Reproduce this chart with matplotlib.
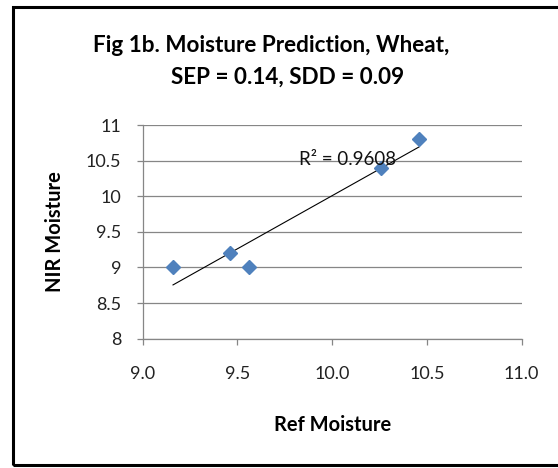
import numpy as np
import matplotlib
matplotlib.use("Agg")
import matplotlib.pyplot as plt
from matplotlib.patches import Rectangle

plt.rcParams['font.family'] = ['Lato', 'DejaVu Sans']

ref_moisture = [9.16, 9.46, 9.56, 10.26, 10.46]
nir_moisture = [9.0, 9.2, 9.0, 10.4, 10.8]
x_ticks = [9.0, 9.5, 10.0, 10.5, 11.0]
y_ticks = [8, 8.5, 9, 9.5, 10, 10.5, 11]
x_tick_labels = ["9.0", "9.5", "10.0", "10.5", "11.0"]
y_tick_labels = ["8", "8.5", "9", "9.5", "10", "10.5", "11"]
title_line1 = "Fig 1b. Moisture Prediction, Wheat,"
title_line2 = "SEP = 0.14, SDD = 0.09"
r2_label = "R² = 0.9608"

W, H = 558, 468
fig = plt.figure(figsize=(W / 100, H / 100), dpi=100)
fig.patch.set_facecolor('white')

# outer frame
fig.add_artist(Rectangle((13 / W, 1 - 465 / H), (W + 20) / W, (465 - 7) / H,
                         transform=fig.transFigure, fill=False,
                         edgecolor='black', linewidth=2.2))

ax = fig.add_axes([142.7 / W, 1 - 338.7 / H, (521.7 - 142.7) / W, (338.7 - 125) / H])

x = np.array(ref_moisture)
y = np.array(nir_moisture)
m, b = np.polyfit(x, y, 1)
xl = np.array([x.min(), x.max()])
ax.plot(xl, m * xl + b, color='black', linewidth=0.8, zorder=2)
ax.plot(x, y, linestyle='none', marker='D', markersize=7.2,
        color='#4F81BD', markeredgecolor='#4F81BD', zorder=3)

ax.set_xlim(9.0, 11.0)
ax.set_ylim(8, 11)
ax.set_xticks(x_ticks)
ax.set_xticklabels(x_tick_labels)
ax.set_yticks(y_ticks)
ax.set_yticklabels(y_tick_labels)

ax.grid(axis='y', color='#868686', linewidth=0.9)
ax.set_axisbelow(True)
for s in ['top', 'right']:
    ax.spines[s].set_visible(False)
for s in ['left', 'bottom']:
    ax.spines[s].set_color('#868686')
    ax.spines[s].set_linewidth(0.9)

ax.tick_params(axis='x', direction='out', length=4.3, width=0.9, color='#868686',
               labelsize=13, pad=15, labelcolor='#222222')
ax.tick_params(axis='y', direction='out', length=4.3, width=0.9, color='#868686',
               labelsize=13, pad=11, labelcolor='#222222')

ax.set_xlabel("Ref Moisture", fontsize=14.5, fontweight='bold')
ax.set_ylabel("NIR Moisture", fontsize=14.5, fontweight='bold')
ax.xaxis.set_label_coords(0.5, (338.7 - 425) / 213.7)
ax.xaxis.label.set_va('center')
ax.yaxis.set_label_coords((55 - 142.7) / 379, 0.5)
ax.yaxis.label.set_va('center')

ax.text(10.08, 10.51, r2_label, fontsize=13.5, ha='center', va='center', color='#111111', zorder=4)

fig.text(271 / W, 1 - 52 / H, title_line1, ha='center', va='baseline', fontsize=16.2,
         fontweight='bold')
fig.text(288 / W, 1 - 84 / H, title_line2, ha='center', va='baseline', fontsize=16.2,
         fontweight='bold')

fig.savefig("out.png", dpi=100, facecolor='white')
